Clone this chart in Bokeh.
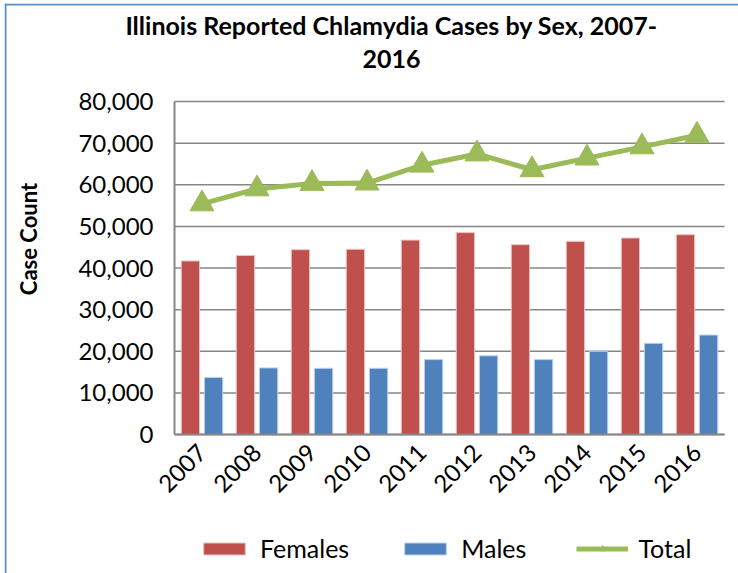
import math
from bokeh.plotting import figure
from bokeh.models import (Range1d, NumeralTickFormatter, FixedTicker, Span,
                          Label, Legend, LegendItem, ColumnDataSource)
from bokeh.transform import dodge
from bokeh.embed import file_html
from bokeh.resources import INLINE

years = ["2007", "2008", "2009", "2010", "2011", "2012", "2013", "2014", "2015", "2016"]
females = [41700, 43000, 44400, 44500, 46700, 48500, 45600, 46400, 47200, 48000]
males = [13700, 16000, 15900, 15900, 18000, 18900, 18000, 20000, 21900, 23900]
total = [55400, 59000, 60300, 60400, 64700, 67400, 63600, 66400, 69100, 71900]
y_ticks = [0, 10000, 20000, 30000, 40000, 50000, 60000, 70000, 80000]

title_lines = ["Illinois Reported Chlamydia Cases by Sex, 2007-", "2016"]
y_label = "Case Count"

FONT = "Lato"

# ---- layout (pixels) ----
W, H = 734, 570                      # canvas size
PL, PR, PT, PB = 170, 720, 98, 431   # plot area edges inside the canvas (left, right, top, bottom)
n = len(years)
y_max = y_ticks[-1]
px_x = (PR - PL) / n
px_y = (PB - PT) / y_max
x_start = -PL / px_x
x_end = n + (W - PR) / px_x
y_start = -(H - PB) / px_y
y_end = y_max + PT / px_y

xpos = [i + 0.5 for i in range(n)]
src = ColumnDataSource(dict(x=xpos, year=years, females=females, males=males, total=total))

p = figure(x_range=Range1d(x_start, x_end), y_range=Range1d(y_start, y_end),
           width=W, height=H, min_border=0,
           output_backend="svg", toolbar_location=None)
p.styles = {"margin-left": "4px", "margin-top": "3px"}
p.outline_line_color = None
p.background_fill_color = "white"
p.border_fill_color = "white"
p.xgrid.grid_line_color = None
p.ygrid.grid_line_color = None

# chart-area frame (left and top edges)
p.add_layout(Span(location=1, location_units="screen", dimension="height",
                  line_color="#5b8dc9", line_width=2))
p.add_layout(Span(location=H - 1, location_units="screen", dimension="width",
                  line_color="#5b8dc9", line_width=2))

# horizontal gridlines across the plot area
p.segment(x0=0, x1=n, y0=y_ticks, y1=y_ticks, line_color="#868686", line_width=1.5)

rf = p.vbar(x=dodge("x", -0.21), top="females", width=0.333, source=src,
            fill_color="#c0504d", line_color="#e8c4c3", line_width=1)
rm = p.vbar(x=dodge("x", 0.21), top="males", width=0.333, source=src,
            fill_color="#4f81bd", line_color="#bdd0e8", line_width=1)
rl = p.line(x="x", y="total", source=src, line_color="#9bbb59", line_width=5)
rs = p.scatter(x="x", y="total", source=src, marker="triangle", size=24,
               fill_color="#9bbb59", line_color="#9bbb59")

# y axis drawn at x = 0
yax = p.yaxis[0]
yax.fixed_location = 0
yax.bounds = (0, y_max)
yax.ticker = FixedTicker(ticks=y_ticks)
yax.formatter = NumeralTickFormatter(format="0,0")
yax.major_tick_line_color = None
yax.minor_tick_line_color = None
yax.major_tick_out = 0
yax.major_tick_in = 0
yax.major_label_standoff = 21
yax.axis_line_color = "#868686"
yax.axis_line_width = 2
yax.major_label_text_font = FONT
yax.major_label_text_font_size = "24px"
yax.major_label_text_color = "#000000"

# x axis drawn at y = 0
xax = p.xaxis[0]
xax.fixed_location = 0
xax.bounds = (0, n)
xax.ticker = FixedTicker(ticks=xpos)
xax.major_label_overrides = {x: y for x, y in zip(xpos, years)}
xax.major_tick_line_color = None
xax.minor_tick_line_color = None
xax.major_tick_out = 0
xax.major_tick_in = 0
xax.axis_line_color = "#868686"
xax.axis_line_width = 2
xax.major_label_orientation = math.pi / 4
xax.major_label_standoff = 14
xax.major_label_text_font = FONT
xax.major_label_text_font_size = "24px"
xax.major_label_text_color = "#000000"

# title and axis title (screen units, measured from the canvas bottom-left)
p.add_layout(Label(x=387, y=H - 21.5, x_units="screen", y_units="screen", text=title_lines[0],
                   text_align="center", text_baseline="alphabetic", text_font=FONT,
                   text_font_style="bold", text_font_size="25px", text_color="#000000"))
p.add_layout(Label(x=387, y=H - 55.5, x_units="screen", y_units="screen", text=title_lines[1],
                   text_align="center", text_baseline="alphabetic", text_font=FONT,
                   text_font_style="bold", text_font_size="25px", text_color="#000000"))
p.add_layout(Label(x=24, y=H - 235.5, x_units="screen", y_units="screen", text=y_label,
                   angle=math.pi / 2, text_align="center", text_baseline="middle",
                   text_font=FONT, text_font_style="bold", text_font_size="22px",
                   text_color="#000000"))

legend = Legend(items=[LegendItem(label="Females", renderers=[rf]),
                       LegendItem(label="Males", renderers=[rm]),
                       LegendItem(label="Total", renderers=[rl, rs])],
                orientation="horizontal", location=(194, 10),
                glyph_width=52, glyph_height=15, label_standoff=10, spacing=50,
                padding=0, margin=0, border_line_color=None, background_fill_alpha=0,
                label_text_font=FONT, label_text_font_size="25px", label_text_color="#000000")
p.add_layout(legend, "center")

open("out.html", "w").write(file_html(p, INLINE))
